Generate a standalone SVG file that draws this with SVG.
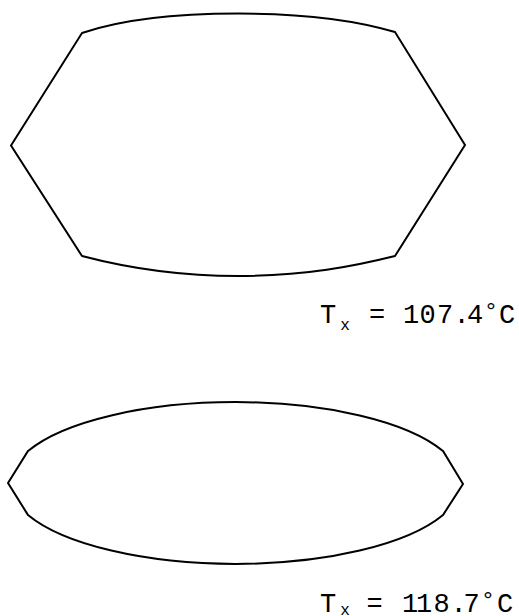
<svg xmlns="http://www.w3.org/2000/svg" width="519" height="616" viewBox="0 0 519 616">
<style>
.shape{fill:none;stroke:#000;stroke-width:2;stroke-linejoin:miter}
.lbl{font-family:"Liberation Mono","DejaVu Sans Mono",monospace;font-size:27px;fill:#000;text-anchor:middle}
.sub{font-family:"Liberation Mono","DejaVu Sans Mono",monospace;font-size:16px;fill:#000;text-anchor:middle}
.deg{font-family:"Liberation Mono","DejaVu Sans Mono",monospace;font-size:24px;fill:#000;text-anchor:middle}
</style>
<rect width="519" height="616" fill="#fff"/>
<g id="shape1">
<path class="shape" d="M11,145.5 L82,33 C120,20 170,13.5 238,13.5 C305,13.5 355,20 395,32 L465,145 L395,256 C355,266 305,276 238,276 C170,276 120,266 82,256 Z"/>
</g>
<g id="label1">
<text class="lbl" x="328" y="323">T</text>
<text class="sub" x="345" y="330">x</text>
<text class="lbl" x="377" y="323">=</text>
<text class="lbl" x="411 427.5 445 461.5 475" y="323">107.4</text>
<text class="deg" x="491" y="319">°</text>
<text class="lbl" x="507" y="323">C</text>
</g>
<g id="shape2">
<path class="shape" d="M8,483 L28,451 A226,81 0 0 1 443,451 L463,484 L443,515 A226,81 0 0 1 28,515 Z"/>
</g>
<g id="label2">
<text class="lbl" x="328" y="612">T</text>
<text class="sub" x="345" y="615">x</text>
<text class="lbl" x="374.5" y="612">=</text>
<text class="lbl" x="410 424 441.5 458.5 471.5" y="612">118.7</text>
<text class="deg" x="488" y="608">°</text>
<text class="lbl" x="505" y="612">C</text>
</g>
</svg>
